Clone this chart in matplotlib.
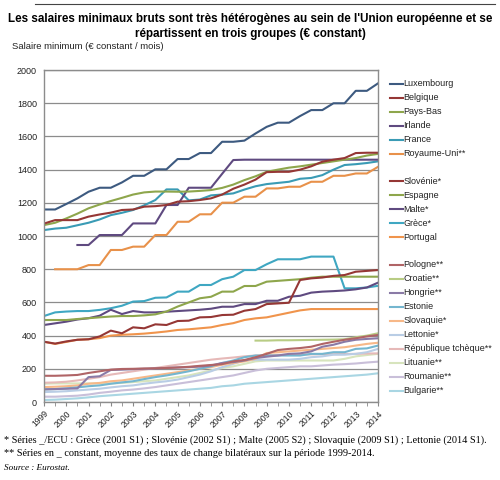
import numpy as np
import matplotlib
matplotlib.use("Agg")
import matplotlib.pyplot as plt
from matplotlib.lines import Line2D

plt.rcParams["font.family"] = ["Liberation Sans", "DejaVu Sans"]

nan = np.nan
years = [str(y) for y in range(1999, 2015)]

# semi-annual points, 1999 S1 ... 2014 S1
luxembourg = [1160, 1160, 1193, 1227, 1267, 1291, 1291, 1323, 1363, 1363, 1402, 1402, 1464, 1464, 1500, 1500,
              1568, 1568, 1575, 1618, 1658, 1683, 1683, 1723, 1759, 1759, 1800, 1800, 1875, 1875, 1920]
belgique = [1075, 1096, 1096, 1096, 1117, 1130, 1141, 1157, 1160, 1177, 1180, 1187, 1207, 1210, 1217, 1227,
            1250, 1285, 1310, 1340, 1385, 1387, 1387, 1400, 1420, 1448, 1460, 1470, 1500, 1502, 1502]
pays_bas = [1066, 1080, 1106, 1135, 1167, 1190, 1211, 1230, 1250, 1263, 1268, 1268, 1267, 1268, 1272, 1277,
            1290, 1310, 1337, 1360, 1387, 1400, 1412, 1420, 1430, 1440, 1450, 1460, 1470, 1485, 1495]
irlande = [nan, nan, nan, 946, 946, 1006, 1006, 1006, 1076, 1076, 1076, 1187, 1187, 1291, 1291, 1291,
           1375, 1458, 1460, 1460, 1460, 1460, 1460, 1460, 1460, 1460, 1460, 1460, 1460, 1460, 1460]
france = [1036, 1045, 1050, 1065, 1080, 1100, 1126, 1140, 1157, 1185, 1217, 1281, 1281, 1215, 1220, 1245,
          1250, 1257, 1280, 1300, 1313, 1320, 1327, 1345, 1350, 1367, 1400, 1428, 1433, 1440, 1450]
royaume_uni = [nan, 800, 800, 800, 825, 825, 916, 916, 936, 936, 1006, 1006, 1086, 1086, 1131, 1131,
               1201, 1201, 1237, 1237, 1287, 1287, 1297, 1297, 1327, 1327, 1363, 1363, 1377, 1377, 1417]

slovenie = [363, 352, 365, 375, 378, 395, 430, 414, 450, 444, 468, 464, 488, 490, 510, 512,
            524, 526, 550, 560, 590, 594, 598, 735, 745, 750, 760, 765, 785, 790, 795]
espagne = [494, 494, 494, 500, 505, 510, 515, 518, 518, 522, 528, 545, 575, 600, 625, 634,
           665, 665, 699, 699, 725, 730, 735, 740, 749, 755, 755, 755, 755, 755, 755]
malte = [464, 474, 484, 497, 505, 520, 556, 530, 548, 540, 540, 544, 548, 552, 556, 562,
         574, 574, 590, 590, 610, 610, 634, 640, 659, 665, 668, 672, 679, 690, 719]
grece = [518, 540, 545, 548, 548, 555, 565, 580, 605, 608, 628, 630, 665, 665, 705, 705,
         740, 755, 795, 795, 830, 860, 860, 860, 876, 876, 876, 685, 685, 690, 700]
portugal = [363, 350, 362, 375, 378, 385, 400, 405, 408, 412, 418, 425, 434, 438, 444, 450,
            464, 475, 494, 504, 510, 524, 538, 552, 560, 560, 560, 560, 560, 560, 560]

pologne = [158, 158, 160, 163, 175, 185, 195, 199, 200, 202, 203, 205, 208, 212, 218, 223,
           228, 245, 253, 270, 290, 313, 320, 325, 333, 350, 363, 375, 384, 395, 404]
croatie = [nan] * 19 + [370, 370, 372, 372, 373, 374, 375, 376, 378, 390, 400, 414]
hongrie = [76, 78, 80, 82, 150, 155, 193, 195, 198, 200, 202, 205, 208, 210, 213, 220,
           235, 240, 250, 265, 273, 280, 290, 293, 305, 333, 345, 363, 375, 380, 384]
estonie = [76, 78, 82, 88, 95, 100, 110, 118, 125, 138, 150, 160, 172, 185, 200, 215,
           235, 250, 270, 280, 280, 280, 280, 280, 290, 290, 300, 300, 320, 323, 340]
slovaquie = [90, 92, 95, 100, 110, 115, 125, 130, 140, 150, 160, 170, 180, 190, 200, 210,
             225, 235, 245, 260, 295, 300, 305, 310, 315, 320, 325, 330, 340, 350, 357]
lettonie = [60, 62, 65, 70, 75, 80, 88, 95, 100, 110, 118, 125, 135, 150, 165, 185,
            210, 230, 250, 255, 255, 255, 255, 260, 270, 275, 285, 285, 290, 300, 320]
tcheque = [116, 118, 122, 130, 140, 150, 165, 175, 185, 195, 205, 215, 225, 235, 245, 255,
           262, 268, 275, 280, 282, 284, 285, 286, 287, 288, 288, 289, 290, 292, 293]
lituanie = [110, 112, 112, 112, 112, 112, 112, 115, 120, 125, 130, 140, 150, 160, 175, 190,
            205, 215, 230, 245, 250, 250, 250, 250, 250, 250, 250, 260, 275, 283, 290]
roumanie = [32, 32, 35, 38, 45, 55, 62, 70, 75, 82, 90, 100, 110, 120, 130, 140,
            150, 160, 175, 190, 200, 205, 210, 215, 215, 220, 225, 228, 232, 238, 243]
bulgarie = [12, 14, 18, 22, 28, 35, 40, 45, 50, 55, 60, 65, 70, 75, 80, 85,
            95, 100, 110, 115, 120, 125, 130, 135, 140, 145, 150, 155, 160, 165, 173]

groups = [
    [("Luxembourg", luxembourg, "#3d5a80"), ("Belgique", belgique, "#953735"),
     ("Pays-Bas", pays_bas, "#8ea64c"), ("Irlande", irlande, "#5f4a80"),
     ("France", france, "#3a9bb5"), ("Royaume-Uni**", royaume_uni, "#e8914a")],
    [("Slovénie*", slovenie, "#953735"), ("Espagne", espagne, "#8ea64c"),
     ("Malte*", malte, "#5f4a80"), ("Grèce*", grece, "#3fa7c2"),
     ("Portugal", portugal, "#f0944c")],
    [("Pologne**", pologne, "#b06466"), ("Croatie**", croatie, "#b8cc84"),
     ("Hongrie**", hongrie, "#8a7aa6"), ("Estonie", estonie, "#74b6cf"),
     ("Slovaquie*", slovaquie, "#f7b888"), ("Lettonie*", lettonie, "#b9cde5"),
     ("République tchèque**", tcheque, "#e6b9b8"), ("Lituanie**", lituanie, "#d7e4bd"),
     ("Roumanie**", roumanie, "#c9bfd9"), ("Bulgarie**", bulgarie, "#a9d6e3")],
]

fig = plt.figure(figsize=(5, 4.8), dpi=100)
ax = fig.add_axes([0.088, 0.1625, 0.668, 0.6915])

x = np.arange(len(luxembourg))
for group in groups[::-1]:
    for name, vals, col in group[::-1]:
        ax.plot(x, vals, color=col, lw=1.5, solid_joinstyle="round")

ax.set_xlim(0, 30)
ax.set_ylim(0, 2000)
ax.set_yticks(range(0, 2001, 200))
ax.set_yticklabels([str(v) for v in range(0, 2001, 200)], fontsize=6.5, color="#222222")
ax.set_xticks(range(0, 31, 2))
ax.set_xticklabels(years, rotation=45, ha="right", rotation_mode="anchor", fontsize=6.2, color="#222222")
ax.set_xticks(range(0, 31), minor=True)
ax.tick_params(axis="y", length=0, pad=5)
ax.tick_params(axis="x", which="both", length=3, color="#888888", pad=2)
ax.grid(axis="y", color="#8c8c8c", lw=0.9)
ax.set_axisbelow(True)
for s in ax.spines.values():
    s.set_color("#8c8c8c")
    s.set_linewidth(1.0)

# top rule and title
fig.add_artist(Line2D([0.07, 0.99], [0.992, 0.992], color="#444444", lw=0.8))
fig.text(0.5, 0.945, "Les salaires minimaux bruts sont très hétérogènes au sein de l'Union européenne et se\n"
         "répartissent en trois groupes (€ constant)", ha="center", va="center",
         fontsize=8.4, fontweight="bold", linespacing=1.25)
fig.text(0.024, 0.904, "Salaire minimum (€ constant / mois)", fontsize=6.8, ha="left", va="center",
         color="#222222")

# legend, three blocks
ys = [0.826, 0.622, 0.448]
step = 14 / 480
for group, y0 in zip(groups, ys):
    for k, (name, vals, col) in enumerate(group):
        yy = y0 - k * step
        fig.add_artist(Line2D([0.780, 0.806], [yy, yy], color=col, lw=1.5))
        fig.text(0.807, yy, name, fontsize=6.5, va="center", ha="left", color="#222222")

serif = ["Liberation Serif", "DejaVu Serif"]
fig.text(0.008, 0.083, "* Séries _/ECU : Grèce (2001 S1) ; Slovénie (2002 S1) ; Malte (2005 S2) ; "
         "Slovaquie (2009 S1) ; Lettonie (2014 S1).", fontsize=7.4, family=serif, va="center")
fig.text(0.008, 0.056, "** Séries en _ constant, moyenne des taux de change bilatéraux sur la période 1999-2014.",
         fontsize=7.4, family=serif, va="center")
fig.text(0.008, 0.026, "Source : Eurostat.", fontsize=6.6, family=serif, style="italic", va="center")

fig.savefig("out.png", dpi=100)
